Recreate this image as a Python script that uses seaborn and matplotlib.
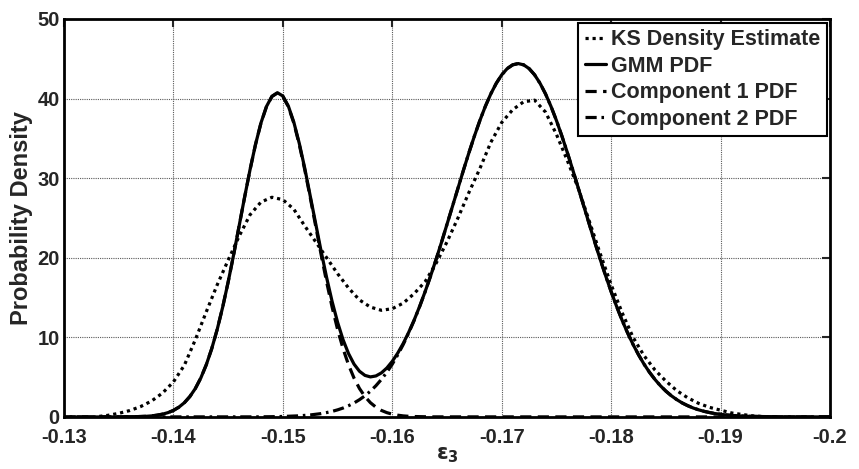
import numpy as np
import matplotlib
matplotlib.use("Agg")
import matplotlib.pyplot as plt
from matplotlib.ticker import FuncFormatter
import seaborn as sns

# sampling positions (epsilon_3)
comp_x = np.round(np.linspace(-0.130, -0.200, 141), 4)
ks_x = np.round(np.linspace(-0.133, -0.195, 63), 3)

# KS density estimate
ks_pdf = [0.03, 0.2, 0.45, 0.8, 1.3, 2.0, 3.0, 4.4,
          6.5, 9.7, 13.2, 16.6, 19.7, 22.7, 25.4, 27.0, 27.6, 27.3,
          26.1, 24.0, 22.0, 20.0, 18.0, 16.2, 14.7, 13.8, 13.4, 13.6,
          14.3, 15.5, 17.0, 19.3, 22.0, 25.0, 28.2, 31.2, 34.5, 37.0,
          38.6, 39.6, 39.8, 38.3, 35.5, 32.2, 28.7, 24.6, 20.5, 16.6,
          13.1, 10.0, 7.7, 5.9, 4.5, 3.3, 2.4, 1.7, 1.2, 0.85,
          0.5, 0.3, 0.12, 0.04, 0.01]

# component 1
comp1_pdf = [0.0] * 11 + [
    0.01, 0.02, 0.03, 0.05, 0.08, 0.13, 0.22, 0.35, 0.54, 0.82,
    1.23, 1.79, 2.56, 3.57, 4.89, 6.55, 8.58, 11.00, 13.80, 16.95,
    20.37, 23.96, 27.58, 31.06, 34.23, 36.93, 38.98, 40.26, 40.70,
    40.26, 38.98, 36.93, 34.23, 31.06, 27.58, 23.96, 20.37, 16.95,
    13.80, 11.00, 8.58, 6.55, 4.89, 3.57, 2.56, 1.79, 1.23, 0.82,
    0.54, 0.35, 0.22, 0.13, 0.08, 0.05, 0.03, 0.02, 0.01] + [0.0] * 73

# component 2
comp2_left = [0.01, 0.01, 0.01, 0.02, 0.02, 0.03, 0.04, 0.06, 0.08, 0.11,
              0.14, 0.19, 0.25, 0.33, 0.42, 0.55, 0.70, 0.89, 1.12, 1.41,
              1.75, 2.17, 2.66, 3.24, 3.92, 4.71, 5.61, 6.64, 7.81, 9.11,
              10.56, 12.14, 13.87, 15.73, 17.71, 19.79, 21.96, 24.20, 26.47, 28.75,
              31.00, 33.19, 35.28, 37.24, 39.02, 40.59, 41.92, 42.99, 43.77, 44.24]
comp2_right = [44.24, 43.77, 42.99, 41.92, 40.59, 39.02, 37.24, 35.28, 33.19, 31.00,
               28.75, 26.47, 24.20, 21.96, 19.79, 17.71, 15.73, 13.87, 12.14, 10.56,
               9.11, 7.81, 6.64, 5.61, 4.71, 3.92, 3.24, 2.66, 2.17, 1.75,
               1.41, 1.12, 0.89, 0.70, 0.55, 0.42, 0.33, 0.25, 0.19, 0.14,
               0.11, 0.08, 0.06, 0.04, 0.03, 0.02, 0.02, 0.01, 0.01]
comp2_pdf = [0.0] * 33 + comp2_left + [44.40] + comp2_right + [0.0] * 8

# GMM pdf
gmm_pdf = [0.0] * 11 + [
    0.01, 0.02, 0.03, 0.05, 0.08, 0.13, 0.22, 0.35, 0.54, 0.82,
    1.23, 1.79, 2.56, 3.57, 4.89, 6.55, 8.58, 11.00, 13.80, 16.95,
    20.37, 23.96, 27.59, 31.07, 34.24, 36.95, 39.00, 40.29, 40.74,
    40.32, 39.06, 37.04, 34.37, 31.25, 27.83, 24.29, 20.79, 17.50,
    14.50, 11.89, 9.70, 7.96, 6.64, 5.74, 5.22, 5.03, 5.15, 5.53,
    6.15, 6.99, 8.03, 9.24, 10.64, 12.19, 13.90, 15.75, 17.72, 19.79,
    21.96, 24.20, 26.47, 28.75, 31.00, 33.19, 35.28, 37.24, 39.02,
    40.59, 41.92, 42.99, 43.77, 44.24, 44.40] + comp2_right + [0.0] * 8

labels = ["KS Density Estimate", "GMM PDF", "Component 1 PDF", "Component 2 PDF"]

sns.set_style("white")
plt.rcParams["font.family"] = ["Liberation Sans", "DejaVu Sans"]
plt.rcParams["font.weight"] = "bold"

fig = plt.figure(figsize=(8.59, 4.69), dpi=100)
ax = fig.add_axes([0.0745, 0.111, 0.8918, 0.8485])

lw = 2.3
sns.lineplot(x=ks_x, y=ks_pdf, ax=ax, color="k", lw=lw,
             linestyle=(0, (1.0, 1.2)), label=labels[0])
sns.lineplot(x=comp_x, y=gmm_pdf, ax=ax, color="k", lw=lw, label=labels[1])
sns.lineplot(x=comp_x, y=comp1_pdf, ax=ax, color="k", lw=lw,
             linestyle=(0, (3.5, 2.0)), label=labels[2])
sns.lineplot(x=comp_x, y=comp2_pdf, ax=ax, color="k", lw=lw,
             linestyle=(0, (3.5, 1.5, 0.8, 1.5)), label=labels[3])

ax.set_xlim(-0.13, -0.2)
ax.set_ylim(0, 50)
ax.set_xticks(np.round(np.arange(-0.13, -0.2001, -0.01), 2))
ax.set_yticks(range(0, 51, 10))
ax.xaxis.set_major_formatter(FuncFormatter(lambda v, _: f"{v:g}"))
ax.grid(True, linestyle=(0, (1, 1)), color="0.35", lw=0.8)
ax.tick_params(direction="in", top=True, right=True, length=6, width=1.5,
               labelsize=14.5)
ax.tick_params(axis="x", pad=8)
ax.tick_params(axis="y", pad=3)
for t in ax.get_xticklabels() + ax.get_yticklabels():
    t.set_fontweight("bold")
for s in ax.spines.values():
    s.set_linewidth(2)
    s.set_color("k")

ax.set_ylabel("Probability Density", fontsize=17, fontweight="bold", labelpad=3)
ax.set_xlabel(r"$\mathrm{\varepsilon}_3$", fontsize=15, labelpad=-1)

leg = ax.legend(loc="upper right", bbox_to_anchor=(0.996, 0.99), borderaxespad=0,
                fancybox=False, frameon=True, edgecolor="k", framealpha=1,
                fontsize=15.5, handlelength=1.0, handletextpad=0.23,
                labelspacing=0.25, borderpad=0.3)
leg.get_frame().set_linewidth(1.5)
for t in leg.get_texts():
    t.set_fontweight("bold")

fig.savefig("out.png", dpi=100)
